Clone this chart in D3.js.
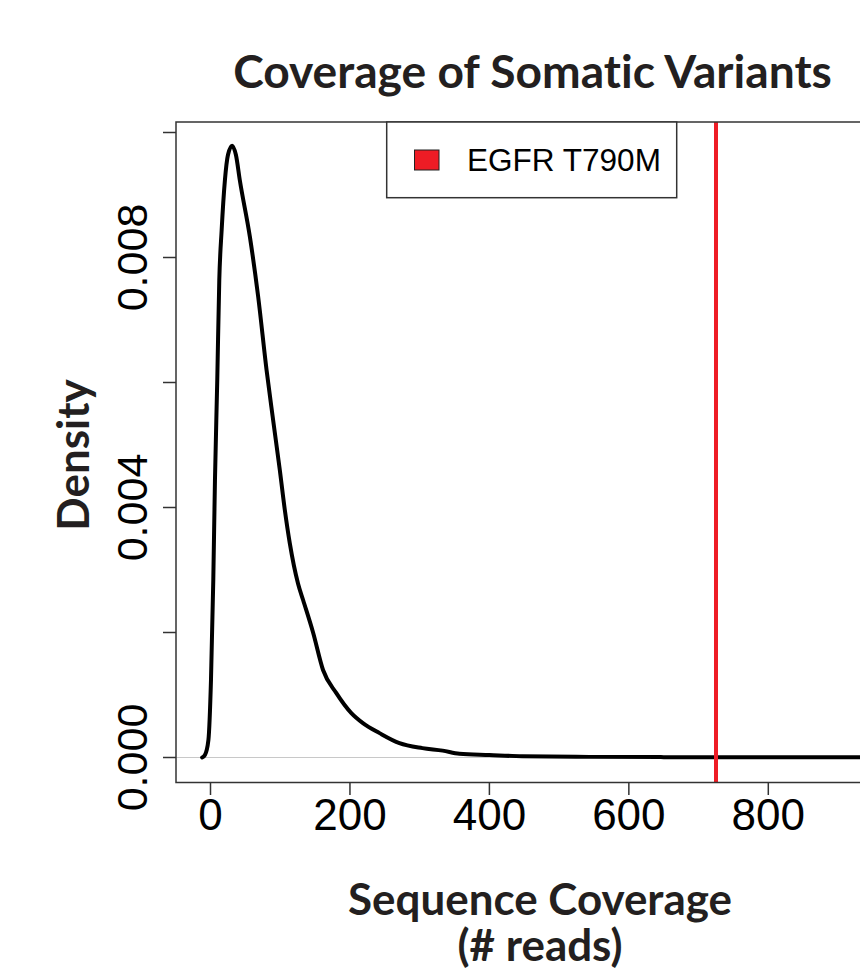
<!DOCTYPE html>
<html>
<head>
<meta charset="utf-8">
<script src="https://cdn.jsdelivr.net/npm/d3@7"></script>
<style>
  body { margin: 0; background: #fff; }
  svg { display: block; }
</style>
</head>
<body>
<div id="chart"></div>
<script>
// density curve: coverage (# reads) and density
const coverage = [-12, -8, -3, 0.7, 4, 6.4, 9.7, 12.6, 16, 20.7, 25, 31, 36.5, 42, 56.5, 68.4, 80.4, 89.8,
  99.4, 106.6, 113.7, 125.6, 132.8, 147.1, 161.4, 180.5, 202, 218.6, 242.5, 271, 304, 333, 357, 400,
  447, 543, 650, 800, 1000];
const density = [0, 0.00004, 0.00028, 0.00124, 0.00284, 0.00444, 0.00604, 0.00764, 0.00844, 0.00924,
  0.00964, 0.00979, 0.00964, 0.00924, 0.00833, 0.00737, 0.0062, 0.0054, 0.0046, 0.00396, 0.00343,
  0.00278, 0.00252, 0.00200, 0.0014, 0.00103, 0.00071, 0.00055, 0.00039, 0.00023, 0.00015, 0.00011,
  0.00006, 0.00004, 0.00002, 0.00001, 0.000006, 0.000005, 0.000004];

const xTicks = [0, 200, 400, 600, 800];
const yTicks = [0, 0.002, 0.004, 0.006, 0.008, 0.010];
const yLabels = [0, 0.004, 0.008];

const variantName = "EGFR T790M";
const variantCoverage = 725;

const width = 860;
const height = 974;

const svg = d3.select("#chart")
  .append("svg")
  .attr("width", width)
  .attr("height", height);

// plot box (right side runs off the picture)
const box = { left: 176, top: 122, right: 905, bottom: 782.5 };

const x = d3.scaleLinear()
  .domain([0, 800])
  .range([210.5, 768.3]);

const y = d3.scaleLinear()
  .domain([0, 0.010])
  .range([757.5, 132.5]);

const titleFont = "Lato, 'Open Sans', sans-serif";
const tickFont = "'Liberation Sans', Arial, Helvetica, sans-serif";
const ink = "#231f20";

// fit a text into a given width
function fitText(sel, w) {
  const len = sel.node().getComputedTextLength();
  const fs = parseFloat(sel.style("font-size"));
  sel.style("font-size", (fs * w / len) + "px");
}

// zero line
svg.append("line")
  .attr("x1", box.left)
  .attr("x2", box.right)
  .attr("y1", y(0))
  .attr("y2", y(0))
  .attr("stroke", "#c8c8c8")
  .attr("stroke-width", 1.2);

// density curve
const line = d3.line()
  .x((d, i) => x(coverage[i]))
  .y(d => y(d))
  .curve(d3.curveMonotoneX);

svg.append("path")
  .datum(density)
  .attr("d", line)
  .attr("fill", "none")
  .attr("stroke", "#000")
  .attr("stroke-width", 4)
  .attr("stroke-linejoin", "round")
  .attr("stroke-linecap", "round");

// variant marker
svg.append("line")
  .attr("x1", x(variantCoverage))
  .attr("x2", x(variantCoverage))
  .attr("y1", box.top)
  .attr("y2", box.bottom)
  .attr("stroke", "#ee1c25")
  .attr("stroke-width", 4);

// box
svg.append("rect")
  .attr("x", box.left)
  .attr("y", box.top)
  .attr("width", box.right - box.left)
  .attr("height", box.bottom - box.top)
  .attr("fill", "none")
  .attr("stroke", "#333")
  .attr("stroke-width", 1.5);

// x axis ticks
const xAxis = svg.append("g");
xAxis.selectAll("line")
  .data(xTicks)
  .join("line")
  .attr("x1", d => x(d))
  .attr("x2", d => x(d))
  .attr("y1", box.bottom)
  .attr("y2", box.bottom + 12.5)
  .attr("stroke", "#333")
  .attr("stroke-width", 1.5);
xAxis.selectAll("text")
  .data(xTicks)
  .join("text")
  .attr("x", d => x(d))
  .attr("y", 829.5)
  .attr("text-anchor", "middle")
  .style("font-family", tickFont)
  .style("font-size", "44px")
  .style("fill", "#000")
  .text(d => d);

// y axis ticks
const yAxis = svg.append("g");
yAxis.selectAll("line")
  .data(yTicks)
  .join("line")
  .attr("x1", box.left - 13)
  .attr("x2", box.left)
  .attr("y1", d => y(d))
  .attr("y2", d => y(d))
  .attr("stroke", "#333")
  .attr("stroke-width", 1.5);
yAxis.selectAll("text")
  .data(yLabels)
  .join("text")
  .attr("transform", d => `translate(147,${y(d)}) rotate(-90)`)
  .attr("text-anchor", "middle")
  .style("font-family", tickFont)
  .style("font-size", "43px")
  .style("fill", "#000")
  .text(d => d3.format(".3f")(d));

// legend
const legend = svg.append("g");
legend.append("rect")
  .attr("x", 386.7)
  .attr("y", box.top)
  .attr("width", 290)
  .attr("height", 75.7)
  .attr("fill", "#fff")
  .attr("stroke", "#333")
  .attr("stroke-width", 1.5);
legend.append("rect")
  .attr("x", 414.5)
  .attr("y", 150)
  .attr("width", 24.5)
  .attr("height", 20)
  .attr("fill", "#ee1c25")
  .attr("stroke", "#222")
  .attr("stroke-width", 1);
const legendText = legend.append("text")
  .attr("x", 467)
  .attr("y", 171)
  .style("font-family", tickFont)
  .style("font-size", "30px")
  .style("fill", "#000")
  .text(variantName);
fitText(legendText, 194);

// titles
const title = svg.append("text")
  .attr("x", 532.5)
  .attr("y", 88)
  .attr("text-anchor", "middle")
  .style("font-family", titleFont)
  .style("font-weight", "bold")
  .style("font-variant-ligatures", "none")
  .style("font-size", "44px")
  .style("fill", ink)
  .text("Coverage of Somatic Variants");
fitText(title, 599);

// x title on two lines, one text element
const xTitle = svg.append("text")
  .attr("text-anchor", "middle")
  .style("font-family", titleFont)
  .style("font-weight", "bold")
  .style("font-variant-ligatures", "none")
  .style("font-size", "44px")
  .style("fill", ink);
const xLine1 = xTitle.append("tspan")
  .attr("x", 540)
  .attr("y", 915)
  .text("Sequence Coverage");
const fsX = 44 * 384 / xLine1.node().getComputedTextLength();
xTitle.style("font-size", fsX + "px");
xTitle.append("tspan")
  .attr("x", 540)
  .attr("y", 961)
  .text("(# reads)");

svg.append("text")
  .attr("transform", `translate(89,455) rotate(-90)`)
  .attr("text-anchor", "middle")
  .style("font-family", titleFont)
  .style("font-weight", "bold")
  .style("font-size", fsX + "px")
  .style("fill", ink)
  .text("Density");
</script>
</body>
</html>
